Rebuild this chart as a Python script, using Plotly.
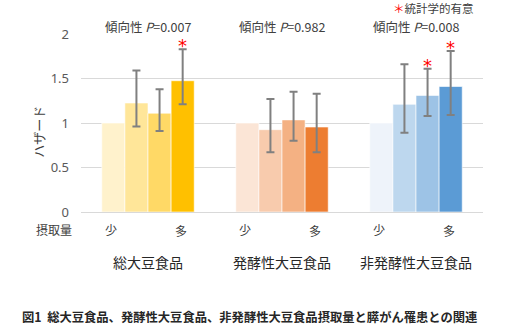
import plotly.graph_objects as go

categories = ["総大豆食品", "発酵性大豆食品", "非発酵性大豆食品"]
levels = ["Q1", "Q2", "Q3", "Q4"]
# hazard ratios per intake level (rows) for each category (columns)
hr = [
    [1.00, 1.00, 1.00],
    [1.225, 0.925, 1.21],
    [1.11, 1.035, 1.31],
    [1.475, 0.955, 1.41],
]
ci_upper = [
    [None, None, None],
    [1.59, 1.27, 1.66],
    [1.38, 1.35, 1.61],
    [1.83, 1.33, 1.81],
]
ci_lower = [
    [None, None, None],
    [0.96, 0.67, 0.89],
    [0.91, 0.80, 1.08],
    [1.21, 0.67, 1.09],
]
colors = [
    ["#FFF2CC", "#FBE5D6", "#EEF3FA"],
    ["#FFE699", "#F8CBAD", "#BDD7EE"],
    ["#FFD966", "#F4B183", "#9DC3E6"],
    ["#FFC000", "#ED7D31", "#5B9BD5"],
]
significant = [
    [False, False, False],
    [False, False, False],
    [False, False, True],
    [True, False, True],
]
trend_p = ["0.007", "0.982", "0.008"]
y_ticks = [0, 0.5, 1, 1.5, 2]
y_ticklabels = ["0", "0.5", "1", "1.5", "2"]

BARGAP = 0.31
fig = go.Figure()
for i, lvl in enumerate(levels):
    plus = [None if u is None else u - v for u, v in zip(ci_upper[i], hr[i])]
    minus = [None if l is None else v - l for l, v in zip(ci_lower[i], hr[i])]
    has_err = any(p is not None for p in plus)
    fig.add_trace(go.Bar(
        x=list(range(len(categories))), y=hr[i], name=lvl,
        marker=dict(color=colors[i], line=dict(color="white", width=0.6)),
        error_y=dict(type="data", symmetric=False,
                     array=[p if p is not None else 0 for p in plus],
                     arrayminus=[m if m is not None else 0 for m in minus],
                     color="#808080", thickness=2, width=4,
                     visible=has_err),
        showlegend=False, hoverinfo="skip",
    ))

gw = 1 - BARGAP
bw = gw / len(levels)
def bar_x(ci, li):
    return ci - gw / 2 + bw * (li + 0.5)

ann = []
font_jp = "Noto Sans CJK JP"
for ci, cat in enumerate(categories):
    ann.append(dict(x=ci, y=1.042, xref="x", yref="paper", yanchor="middle",
                    text=f"傾向性 <i>P</i>=" + trend_p[ci],
                    showarrow=False, font=dict(size=12.5, color="#404040", family=font_jp)))
    ann.append(dict(x=bar_x(ci, 0) - 0.02, y=-0.1, xref="x", yref="paper", yanchor="middle",
                    text="少", showarrow=False, font=dict(size=12, color="#404040", family=font_jp)))
    ann.append(dict(x=bar_x(ci, 3) - 0.01, y=-0.105, xref="x", yref="paper", yanchor="middle",
                    text="多", showarrow=False, font=dict(size=12, color="#404040", family=font_jp)))
    ann.append(dict(x=ci, y=-0.28, xref="x", yref="paper", yanchor="middle",
                    text=cat, showarrow=False, font=dict(size=14, color="#262626", family=font_jp)))
    for li in range(len(levels)):
        if significant[li][ci]:
            ann.append(dict(x=bar_x(ci, li), y=ci_upper[li][ci], xref="x", yref="y",
                            yanchor="bottom", yshift=-9, text="*", showarrow=False,
                            font=dict(size=18, color="#FF0000", family="DejaVu Sans")))

ann.append(dict(x=-0.017, y=-0.1, xref="paper", yref="paper", xanchor="right", yanchor="middle",
                text="摂取量", showarrow=False, font=dict(size=12, color="#404040", family=font_jp)))
ann.append(dict(x=0.772, y=1.144, xref="paper", yref="paper", xanchor="left", yanchor="middle",
                text="<span style='color:#FF0000'>＊</span>統計学的有意",
                showarrow=False, font=dict(size=11.5, color="#404040", family=font_jp)))
ann.append(dict(x=-0.108, y=0.449, xref="paper", yref="paper", xanchor="center", yanchor="middle",
                text="ハザード", textangle=-90,
                showarrow=False, font=dict(size=13, color="#404040", family=font_jp)))
ann.append(dict(x=-0.152, y=-0.59, xref="paper", yref="paper", xanchor="left", yanchor="middle",
                text="<b>図1  総大豆食品、発酵性大豆食品、非発酵性大豆食品摂取量と膵がん罹患との関連</b>",
                showarrow=False, font=dict(size=12.3, color="#262626", family=font_jp)))

fig.update_layout(
    width=509, height=329,
    margin=dict(l=81, r=26, t=34, b=117),
    barmode="group", bargap=BARGAP, bargroupgap=0,
    plot_bgcolor="white", paper_bgcolor="white",
    annotations=ann,
    xaxis=dict(range=[-0.5, 2.5], showticklabels=False, showgrid=False,
               zeroline=False, showline=False),
    yaxis=dict(range=[0, 2], tickvals=y_ticks, ticktext=y_ticklabels,
               showgrid=True, gridcolor="#D9D9D9", gridwidth=1,
               zeroline=True, zerolinecolor="#D9D9D9", zerolinewidth=1,
               ticklabelstandoff=11,
               tickfont=dict(size=13, color="#595959", family="Noto Sans")),
)
fig.write_html("out.html")
